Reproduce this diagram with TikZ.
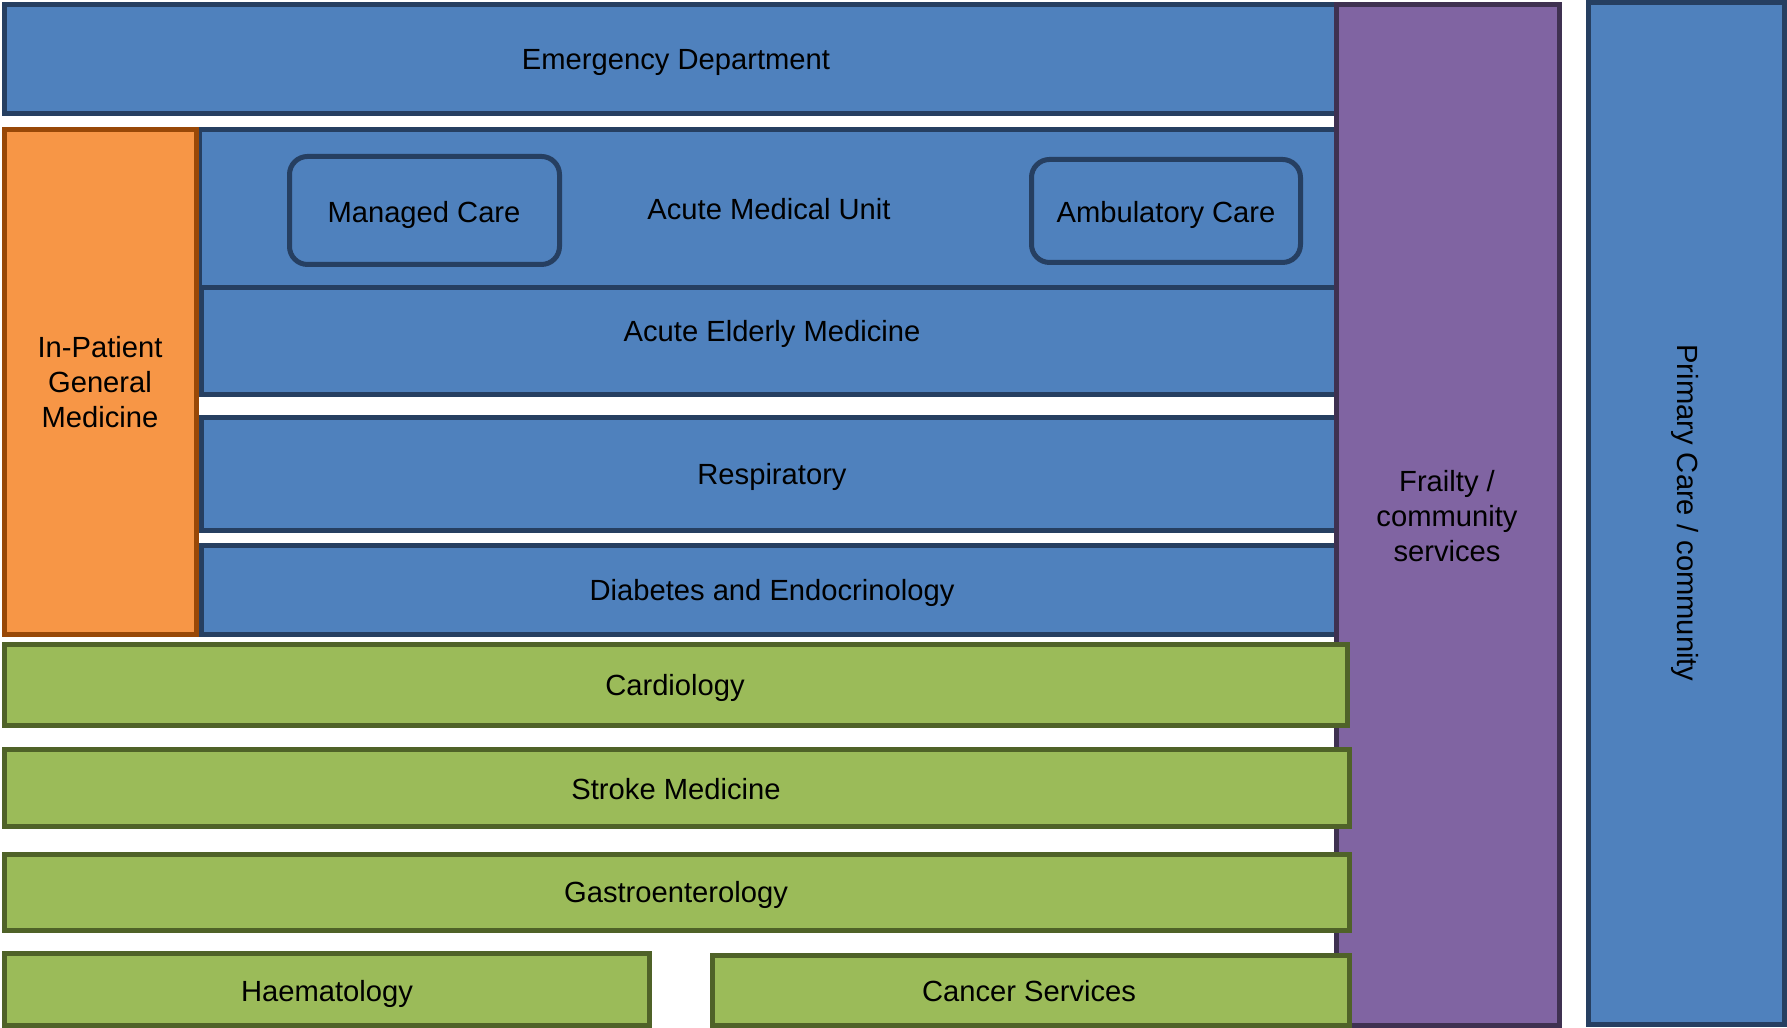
\documentclass[tikz,border=0pt]{standalone}
\usepackage{fontspec}
\setmainfont{Liberation Sans}
\definecolor{acfill}{HTML}{4F81BD}
\definecolor{acline}{HTML}{263F61}
\definecolor{gmfill}{HTML}{F79646}
\definecolor{gmline}{HTML}{984807}
\definecolor{frfill}{HTML}{8064A2}
\definecolor{frline}{HTML}{3F3151}
\definecolor{spfill}{HTML}{9BBB59}
\definecolor{spline}{HTML}{4F6228}
\begin{document}
\begin{tikzpicture}[x=0.1mm,y=-0.1mm,line width=0.5mm,
  acute/.style={fill=acfill,draw=acline},
  genmed/.style={fill=gmfill,draw=gmline},
  frail/.style={fill=frfill,draw=frline},
  spec/.style={fill=spfill,draw=spline},
  every node/.style={font=\fontsize{8.3}{10}\selectfont,align=center,inner sep=0pt,text depth=0pt}]
  \useasboundingbox (0,0) rectangle (1787,1028);
  \draw[acute] (4.5,4.5) rectangle (1349.5,113.5);
  \draw[acute] (199.5,129.5) rectangle (1349.5,287.5);
  \draw[acute,rounded corners=1.8mm] (289.5,156.5) rectangle (559.5,264.5);
  \draw[acute,rounded corners=1.8mm] (1031.5,159.5) rectangle (1300.5,262.5);
  \draw[acute] (201.5,287.5) rectangle (1349.5,394.5);
  \draw[acute] (201.5,417.5) rectangle (1349.5,530.5);
  \draw[acute] (201.5,545.5) rectangle (1349.5,634.5);
  \draw[genmed] (4.5,129.5) rectangle (196.5,634.5);
  \draw[frail] (1336.5,4.5) rectangle (1559.5,1025.5);
  \draw[spec] (4.5,644.5) rectangle (1347.5,725.5);
  \draw[spec] (4.5,749.5) rectangle (1349.5,826.5);
  \draw[spec] (4.5,854.5) rectangle (1349.5,930.5);
  \draw[spec] (4.5,953.5) rectangle (649.5,1025.5);
  \draw[spec] (712.5,955.5) rectangle (1349.5,1025.5);
  \draw[acute] (1588.5,2.5) rectangle (1784.5,1024.5);

  \node (ed) at (676,59) {Emergency Department};
  \node (amu) at (769,209) {Acute Medical Unit};
  \node (managed) at (424,212) {Managed Care};
  \node (ambul) at (1166,212) {Ambulatory Care};
  \node (elderly) at (772,331) {Acute Elderly Medicine};
  \node (resp) at (772,474) {Respiratory};
  \node (diab) at (772,590) {Diabetes and Endocrinology};
  \node (inpat) at (100,382) {In-Patient\\General\\Medicine};
  \node (cardio) at (675,685) {Cardiology};
  \node (stroke) at (676,789) {Stroke Medicine};
  \node (gastro) at (676,892) {Gastroenterology};
  \node (haem) at (327,991) {Haematology};
  \node (cancer) at (1029,991) {Cancer Services};
  \node (frailty) at (1447,516) {Frailty /\\community\\services};
  \node[rotate=-90] (primary) at (1688,513) {Primary Care / community};
\end{tikzpicture}
\end{document}
